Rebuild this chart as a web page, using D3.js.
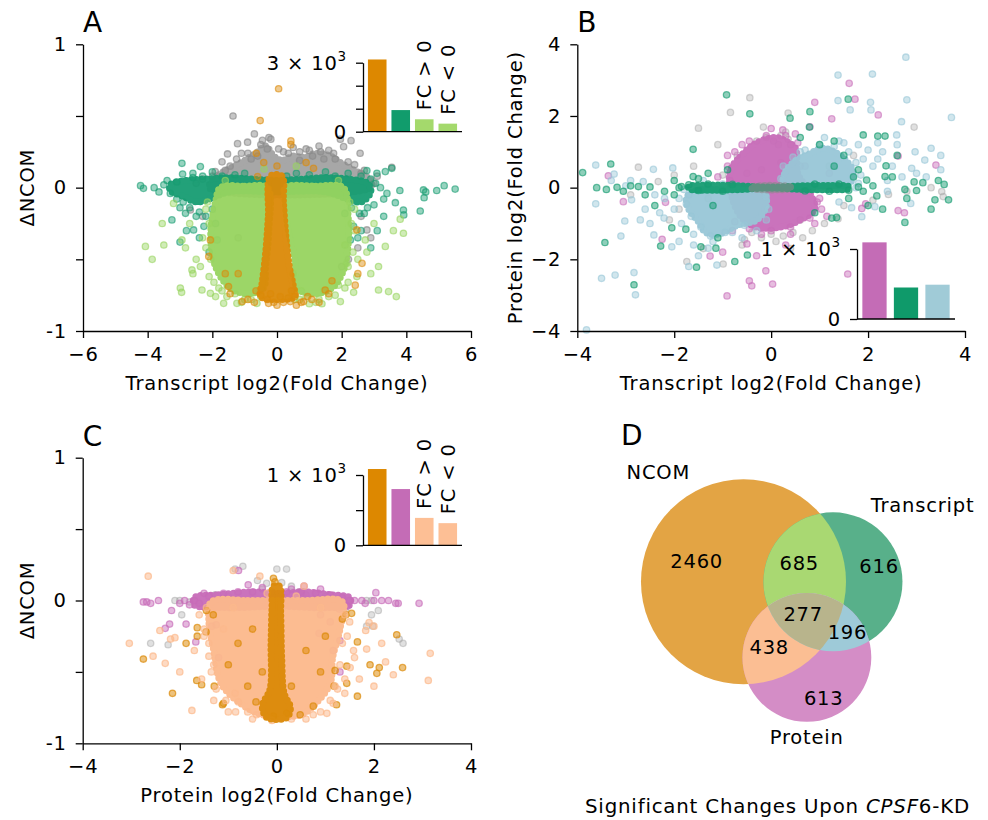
<!DOCTYPE html>
<html>
<head>
<meta charset="utf-8">
<script src="https://cdn.jsdelivr.net/npm/d3@7"></script>
<style>
  body { margin: 0; background: #fff; }
  svg { display: block; font-family: 'DejaVu Sans', sans-serif; }
  svg text { letter-spacing: 0.8px; }
</style>
</head>
<body>
<svg id="fig" width="988" height="820"></svg>
<script>
// ---------- data ----------

// Panel A: transcript log2FC vs dNCOM
const aXTicks = [-6, -4, -2, 0, 2, 4, 6];
const aYTicks = [-1, -0.5, 0, 0.5, 1];
const aYTickText = ['-1', '', '0', '', '1'];
// dense clouds, outlined as [x, y] polygons
const aGrayCore = [[-2.1,0.0],[-1.8,0.09],[-1.4,0.14],[-1.0,0.19],[-0.6,0.25],[-0.35,0.29],[-0.1,0.22],[0.15,0.19],[0.5,0.22],[0.85,0.21],[1.2,0.24],[1.65,0.22],[2.0,0.17],[2.4,0.12],[2.9,0.05],[2.9,0.0]];
const aDarkGreenCore = [[-3.3,0.02],[-2.8,0.05],[-2.2,0.06],[-1.5,0.07],[-0.8,0.06],[0,0.05],[0.8,0.06],[1.5,0.07],[2.2,0.06],[2.8,0.03],[2.9,-0.03],[2.6,-0.1],[2.2,-0.08],[1.5,-0.03],[0,-0.03],[-1.5,-0.03],[-2.1,-0.08],[-2.5,-0.1],[-2.9,-0.06],[-3.3,-0.02]];
const aLightGreenLeftCore = [[-1.75,0.0],[-1.0,0.01],[-0.3,0.0],[-0.25,-0.3],[-0.35,-0.55],[-0.42,-0.7],[-0.9,-0.74],[-1.45,-0.7],[-1.9,-0.55],[-2.05,-0.32],[-1.9,-0.1]];
const aLightGreenRightCore = [[0.25,0.0],[1.2,0.01],[2.05,0.0],[2.2,-0.2],[2.2,-0.4],[2.05,-0.58],[1.7,-0.7],[1.1,-0.74],[0.62,-0.7],[0.55,-0.5],[0.35,-0.3],[0.25,-0.1]];
const aOrangeCore = [[-0.2,0.08],[0.15,0.08],[0.2,-0.1],[0.28,-0.35],[0.38,-0.55],[0.5,-0.68],[0.55,-0.76],[0.0,-0.78],[-0.5,-0.76],[-0.45,-0.65],[-0.35,-0.45],[-0.27,-0.2]];
// single points
const aGrayPts = [[-1.36,0.50],[-0.70,0.375],[-0.91,0.317],[-1.22,0.307],[-0.19,0.338],[-1.53,0.235],[2.29,0.328],[2.57,0.24],[2.06,0.286],[3.55,0.142],[-1.91,0.112],[1.96,0.338],[-2.68,-0.156],[2.78,-0.295],[2.21,-0.5],[-1.7,0.18],[-1.1,0.24],[-0.5,0.30],[-0.3,0.27],[0.2,0.25],[0.5,0.28],[0.9,0.27],[1.3,0.29],[1.6,0.26],[1.8,0.2],[2.4,0.16],[2.7,0.12],[3.1,0.08],[-2.3,0.06],[-0.8,0.2],[1.1,0.22],[2.6,-0.2],[2.9,-0.35],[2.5,-0.42],[-2.3,-0.2],[-1.2,-0.35],[2.0,-0.55],[-0.6,0.22],[0.7,0.19],[1.45,0.2],[-1.45,0.15],[-2.0,0.08],[-1.6,0.12],[-1.25,0.2],[-0.9,0.24],[-0.45,0.33],[-0.25,0.35],[0.05,0.27],[0.35,0.24],[0.7,0.25],[1.0,0.26],[1.35,0.25],[1.75,0.24],[2.2,0.18],[2.6,0.1],[-2.5,0.03],[3.0,0.03]];
const aDarkGreenPts = [[-4.22,0.014],[-4.13,-0.005],[-2.94,0.17],[-2.92,0.095],[-2.37,0.147],[4.53,-0.016],[4.6,-0.03],[4.94,-0.02],[5.17,0.014],[5.51,-0.01],[4.55,-0.07],[4.43,-0.163],[3.91,-0.156],[3.92,-0.19],[3.66,-0.105],[3.4,-0.04],[2.78,0.119],[3.09,0.1],[3.35,0.112],[3.55,0.135],[-3.25,-0.225],[-2.83,-0.179],[-2.58,-0.295],[-2.26,-0.27],[-1.85,-0.365],[2.37,-0.27],[2.27,-0.365],[-3.8,0.0],[-3.65,-0.03],[-3.4,0.05],[-3.1,-0.08],[-2.6,0.1],[-2.0,0.11],[-1.0,0.1],[0.6,0.1],[1.5,0.11],[2.2,0.1],[2.6,0.08],[3.2,0.0],[3.0,-0.12],[2.7,-0.18],[-3.0,-0.14],[-2.5,-0.2],[3.8,-0.02],[-1.9,-0.25],[-2.1,-0.45],[2.6,-0.3],[3.3,-0.2],[-3.5,0.02],[-3.3,-0.04],[-3.1,0.04],[-2.9,-0.1],[-2.7,-0.14],[-2.4,-0.17],[-2.2,-0.2],[-2.0,-0.15],[-2.6,0.07],[-2.3,0.08],[2.8,-0.14],[2.55,-0.18],[2.3,-0.14],[2.9,0.06],[3.05,0.03],[3.3,-0.08],[2.1,-0.18],[-1.7,0.08],[-1.3,0.09],[0.3,0.08],[1.0,0.09],[1.8,0.08],[-2.8,-0.3],[-2.4,-0.35],[2.5,-0.35],[2.9,-0.42],[-3.0,-0.38],[3.1,-0.3]];
const aLightGreenPts = [[-4.07,-0.41],[-3.86,-0.5],[-3.55,-0.25],[-3.5,-0.4],[-3.2,-0.11],[-2.94,-0.365],[-2.83,-0.42],[-2.99,-0.70],[-2.95,-0.73],[-2.63,-0.574],[-2.37,-0.55],[-2.32,-0.714],[-2.06,-0.737],[-1.9,-0.76],[-1.65,-0.807],[-1.24,-0.807],[-0.62,-0.807],[3.14,-0.55],[3.14,-0.714],[3.45,-0.725],[3.69,-0.76],[3.35,-0.41],[3.6,-0.3],[3.91,-0.318],[3.81,-0.22],[2.73,-0.365],[2.78,-0.45],[2.47,-0.62],[2.37,-0.73],[1.96,-0.795],[1.39,-0.81],[1.0,-0.81],[2.16,-0.528],[-2.2,-0.15],[-2.3,-0.35],[-2.5,-0.5],[-2.1,-0.62],[-1.7,-0.72],[-1.0,-0.78],[-0.5,-0.76],[2.4,-0.15],[2.4,-0.3],[2.5,-0.5],[2.2,-0.66],[1.8,-0.75],[1.3,-0.78],[0.7,-0.78],[0.5,-0.6],[-2.7,-0.25],[2.9,-0.6],[-1.6,0.05],[1.9,0.05],[-0.4,0.13],[0.6,0.15],[-2.6,-0.6],[2.1,-0.4],[3.0,-0.25],[-2.15,-0.1],[-2.1,-0.25],[-2.2,-0.42],[-2.05,-0.5],[-1.95,-0.66],[-1.8,-0.7],[-1.55,-0.76],[-1.3,-0.74],[-1.1,-0.8],[-0.8,-0.78],[-0.55,-0.72],[2.25,-0.1],[2.3,-0.25],[2.35,-0.45],[2.2,-0.55],[2.1,-0.7],[1.9,-0.68],[1.6,-0.76],[1.45,-0.72],[1.2,-0.8],[0.9,-0.76],[0.75,-0.72],[0.55,-0.78]];
const aOrangePts = [[0.05,0.69],[-0.52,0.468],[0.43,0.326],[-0.64,0.24],[-0.41,0.175],[0.0,0.151],[0.9,0.175],[1.13,0.135],[-0.6,0.077],[-1.08,-0.795],[-0.9,-0.78],[-0.26,-0.807],[0.0,-0.82],[0.41,-0.795],[0.82,-0.795],[1.08,-0.78],[-1.5,-0.69],[-1.45,-0.74],[-2.06,-0.365],[-2.11,-0.48],[2.47,-0.295],[2.63,-0.528],[2.42,-0.68],[2.5,-0.6],[1.49,-0.714],[1.6,-0.74],[0.43,0.3],[-1.2,-0.6],[1.7,-0.65],[-0.7,-0.8],[0.6,-0.82],[1.3,-0.8],[-1.6,-0.6],[-0.5,-0.75],[-0.3,-0.78],[-0.1,-0.8],[0.2,-0.8],[0.35,-0.77],[0.55,-0.76],[0.75,-0.8],[-0.65,-0.72],[-0.2,-0.74],[0.1,-0.76],[0.45,-0.72],[0.95,-0.76]];
const aBarValues = [3140, 940, 540, 350];
const aBarTicks = [0, 1000, 2000, 3000];
const aBarTickLabelled = [0, 3000];

// Panel B: transcript log2FC vs protein log2FC
const bXTicks = [-4, -2, 0, 2, 4];
const bYTicks = [-4, -2, 0, 2, 4];
const bPinkCore = [[-0.85,0.45],[-0.65,0.85],[-0.3,1.25],[0.1,1.4],[0.3,1.3],[0.5,1.1],[0.55,0.4],[0.8,-0.15],[0.9,-0.6],[0.6,-0.9],[0.2,-1.1],[-0.3,-1.1],[-0.6,-0.85],[-0.8,-0.3]];
const bBlueLeftCore = [[-1.6,-0.1],[-1.0,-0.05],[-0.5,-0.08],[-0.15,-0.15],[-0.1,-0.5],[-0.3,-0.9],[-0.7,-1.05],[-1.1,-1.3],[-1.35,-1.25],[-1.5,-0.95],[-1.7,-0.6],[-1.75,-0.3]];
const bBlueRightCore = [[0.25,0.1],[0.3,0.45],[0.5,0.75],[0.8,0.95],[1.05,1.1],[1.3,1.0],[1.55,0.75],[1.7,0.4],[1.6,0.1],[1.2,0.05],[0.7,0.05]];
const bGreenCore = [[-1.7,0.03],[-1.2,0.07],[-0.6,0.05],[-0.2,0.02],[0.2,0.02],[0.6,0.05],[1.2,0.06],[1.6,0.03],[1.6,-0.03],[1.2,-0.06],[0.6,-0.05],[0.2,-0.02],[-0.2,-0.02],[-0.6,-0.05],[-1.2,-0.07],[-1.7,-0.03]];
const bGrayCore = [[-0.4,0.02],[0.4,0.02],[0.4,-0.02],[-0.4,-0.02]];
const bGrayPts = [[-0.44,2.51],[-0.84,2.1],[-1.5,1.66],[-0.16,1.69],[0.35,2.08],[2.95,1.69],[-2.74,0.57],[-2.33,0.17],[2.42,-0.19],[3.52,-0.11],[1.38,-0.87],[-1.74,-2.06],[-0.99,-2.13],[0.05,1.3],[0.2,1.45],[0.35,1.35],[0.15,1.2],[-0.1,1.4],[0.4,1.2],[0.3,1.55],[-0.3,1.3],[-0.4,-1.25],[-0.2,-1.4],[0.0,-1.3],[0.25,-1.35],[0.45,-1.25],[0.65,-1.4],[0.1,-1.5],[-0.55,-1.45],[0.85,-1.2],[1.1,-1.0],[-1.9,-0.6],[-2.1,-0.9],[-1.4,-1.7],[1.7,0.9],[-1.1,1.2],[3.55,-0.25],[-0.7,0.9],[-1.3,-0.3],[-1.0,0.35],[-0.2,0.5],[0.2,0.7],[1.2,0.6],[1.5,-0.5],[-2.0,0.35],[2.1,-0.35],[-0.6,-1.6],[0.4,-1.7],[-1.6,0.6],[2.8,-0.1],[3.3,0.0],[-2.9,-0.2],[-0.5,0.4],[0.6,-0.9]];
const bGreenPts = [[-0.92,2.59],[-0.44,2.06],[0.39,1.94],[1.59,2.47],[0.8,2.12],[0.79,1.69],[-1.61,1.07],[-3.31,0.66],[-3.89,0.42],[2.35,1.44],[2.2,1.44],[1.9,1.47],[2.37,0.61],[3.13,0.14],[2.95,0.16],[2.76,-0.05],[3.0,-0.08],[3.38,-0.34],[3.66,-0.34],[3.45,0.2],[3.57,0.09],[2.76,-0.97],[2.18,-0.23],[2.35,0.31],[1.97,0.21],[1.35,-0.83],[1.25,-0.85],[-3.43,-1.53],[-2.83,-2.71],[-2.28,-1.63],[-1.54,-2.22],[-0.75,-2.06],[-0.49,-1.88],[-3.18,0.01],[-3.05,-0.1],[-2.74,0.03],[-2.5,0.02],[-1.85,0.03],[-1.61,0.31],[-1.45,-1.65],[-1.14,-1.69],[-2.05,-1.12],[-1.76,-1.16],[-2.2,-0.1],[-2.6,-0.2],[-2.9,0.05],[-2.0,0.2],[1.9,-0.1],[2.1,0.05],[2.5,0.3],[1.6,-0.3],[1.0,1.2],[1.3,1.3],[1.5,0.9],[0.6,1.4],[-1.3,0.4],[-1.1,-1.4],[0.9,-0.7],[1.8,0.5],[2.6,0.9],[-0.9,0.5],[-1.9,0.0],[-1.7,0.08],[-1.5,-0.08],[-1.3,0.1],[-1.0,-0.1],[-0.8,0.09],[0.7,-0.09],[0.9,0.1],[1.2,-0.1],[1.4,0.1],[1.6,-0.07],[1.8,0.02],[-2.0,-0.2],[-1.5,0.25],[1.7,0.3],[2.0,-0.5],[2.3,-0.6],[-1.2,-0.5],[-2.4,-0.5],[1.3,0.6],[2.8,-0.3],[3.3,-0.6],[-3.6,0.0],[-3.4,-0.05]];
const bPinkPts = [[1.61,2.91],[1.73,2.47],[0.9,2.38],[1.25,1.92],[2.21,2.03],[0.24,1.61],[2.62,0.88],[3.4,0.63],[2.62,-0.64],[2.75,-0.7],[1.87,-0.58],[1.95,-0.45],[-3.36,0.33],[-3.05,-0.39],[-2.18,-0.41],[-2.25,-1.44],[-1.26,-1.91],[-0.5,-1.57],[-0.45,-2.6],[-0.4,-2.74],[0.03,-2.69],[-0.91,-3.02],[-0.11,-2.32],[1.58,-2.41],[1.04,-0.6],[1.15,-0.8],[-0.9,0.9],[-0.6,1.2],[0.5,1.5],[0.7,0.6],[1.0,-0.3],[0.9,-1.0],[0.4,-1.3],[-0.2,-1.3],[-0.8,-1.2],[-1.0,-1.8],[0.0,1.65],[-1.1,0.3],[0.8,1.7],[1.2,0.4],[-0.3,-1.9],[0.3,-1.6],[-0.85,0.2],[-0.9,0.6],[-0.75,1.0],[-0.45,1.3],[-0.1,1.45],[0.3,1.45],[0.55,1.25],[0.6,0.6],[0.85,0.0],[0.95,-0.4],[0.8,-0.85],[0.4,-1.1],[0.0,-1.2],[-0.45,-1.15],[-0.75,-0.95]];
const bBluePts = [[2.78,3.64],[2.09,3.17],[1.38,3.14],[1.38,2.43],[1.63,2.17],[2.05,2.38],[2.06,2.17],[2.8,2.45],[3.72,1.96],[2.69,1.84],[2.59,1.47],[3.17,0.77],[2.97,1.0],[2.9,0.54],[2.88,-0.44],[2.14,-0.53],[1.66,-0.56],[1.87,-0.81],[-3.62,0.63],[-3.62,-0.45],[-3.24,0.38],[-3.02,-0.93],[-2.88,-0.34],[-2.43,0.51],[-2.03,0.55],[-3.5,-2.53],[-3.22,-2.44],[-2.83,-2.37],[-2.8,-2.99],[-3.1,-1.35],[-2.42,-1.32],[-2.21,-0.85],[-2.05,-1.65],[-1.7,-2.2],[-1.12,-2.16],[-1.3,-1.69],[-3.81,-3.97],[-2.64,0.17],[1.8,1.2],[1.9,0.8],[2.1,0.6],[2.3,1.0],[2.4,0.2],[1.75,0.0],[1.4,1.3],[1.1,1.4],[0.6,1.0],[2.0,1.05],[3.3,1.1],[3.5,0.9],[-1.9,-0.3],[-2.0,-0.6],[-1.85,-1.0],[-1.6,-1.3],[-1.2,-1.5],[-0.8,-1.25],[-0.1,-0.9],[-1.4,0.2],[-1.0,0.1],[-2.4,-0.2],[-2.6,-0.6],[1.4,-0.4],[2.4,-0.1],[3.0,0.4],[-1.5,-1.9],[-3.3,0.2],[-2.9,0.2],[-1.7,-0.2],[-1.8,-0.05],[-1.75,-0.45],[-1.65,-0.8],[-1.45,-1.1],[-1.25,-1.35],[-0.95,-1.25],[-0.55,-1.05],[-0.3,-1.2],[-0.05,-0.6],[-0.1,-0.25],[-1.3,0.05],[-0.7,0.05],[0.2,0.25],[0.25,0.6],[0.45,0.85],[0.7,1.05],[1.0,1.2],[1.3,1.15],[1.6,1.0],[1.75,0.7],[1.85,0.35],[1.8,0.12],[1.5,1.25],[2.2,1.25],[2.5,0.6],[2.7,0.3],[-2.2,-0.3],[-2.3,-0.7],[-2.5,-1.0],[-1.9,-1.5],[-1.6,-1.6],[-0.6,-1.4],[2.2,0.8],[3.2,0.3],[3.5,0.5],[2.6,1.2],[-2.7,-0.9],[-3.0,0.05]];
const bBarValues = [1095, 450, 490];
const bBarTicks = [0, 1000];
const bBarTickLabelled = [0, 1000];

// Panel C: protein log2FC vs dNCOM
const cXTicks = [-4, -2, 0, 2, 4];
const cYTicks = [-1, -0.5, 0, 0.5, 1];
const cYTickText = ['-1', '', '0', '', '1'];
const cPinkCore = [[-1.7,0.02],[-1.2,0.04],[-0.5,0.06],[0,0.05],[0.6,0.06],[1.1,0.04],[1.5,0.02],[1.5,-0.03],[1.0,-0.05],[0,-0.04],[-1.0,-0.05],[-1.7,-0.03]];
const cPeachCore = [[-1.35,-0.01],[-0.6,0.0],[0,0.0],[0.6,0.0],[1.35,-0.01],[1.3,-0.2],[1.15,-0.4],[1.1,-0.58],[0.8,-0.72],[0.5,-0.8],[-0.3,-0.8],[-0.75,-0.72],[-1.15,-0.58],[-1.3,-0.35],[-1.4,-0.15]];
const cOrangeCore = [[-0.07,0.1],[0.05,0.1],[0.08,-0.1],[0.1,-0.4],[0.15,-0.65],[0.28,-0.75],[0.2,-0.82],[-0.2,-0.82],[-0.3,-0.74],[-0.14,-0.62],[-0.12,-0.3],[-0.1,-0.05]];
const cGrayPts = [[-0.7,0.24],[-0.86,0.22],[0.0,0.22],[0.2,0.22],[-0.4,0.14],[0.1,0.125],[-0.21,0.12],[-1.27,0.04],[-2.1,0.0],[-1.96,-0.10],[-2.24,-0.31],[1.85,0.0],[1.95,0.0],[2.09,-0.07],[1.95,-0.10],[1.85,-0.18],[1.98,-0.18],[2.52,-0.27],[1.41,-0.07],[0.46,0.06],[-2.0,0.0],[-1.8,-0.01],[-0.3,0.08],[0.3,0.1],[-0.1,0.06],[0.6,0.04],[-1.0,0.03],[1.0,0.03],[-2.6,-0.3],[2.6,-0.3]];
const cPinkPts = [[-2.75,-0.01],[-2.68,-0.01],[-2.44,0.0],[-2.17,-0.07],[-2.21,-0.165],[-1.87,-0.165],[-2.3,-0.195],[-1.67,-0.29],[-0.79,0.21],[-0.59,0.11],[0.56,0.10],[2.04,0.055],[2.0,0.0],[2.16,0.0],[2.45,-0.02],[2.5,-0.02],[2.93,-0.02],[1.82,-0.02],[1.3,-0.28],[1.16,-0.35],[0.87,-0.23],[1.29,-0.06],[-1.34,-0.18],[-1.25,-0.17],[-1.9,0.0],[-1.8,-0.03],[1.6,0.0],[1.45,-0.04],[-1.5,0.05],[0.3,0.08],[-0.3,0.09],[0.9,0.08],[1.1,-0.15],[-1.2,-0.4],[1.3,-0.5],[0.9,-0.1],[-1.7,0.0],[-1.6,-0.02],[-1.4,0.03],[-1.1,0.05],[-0.8,0.06],[-0.5,0.06],[0.2,0.06],[0.5,0.06],[0.8,0.05],[1.1,0.04],[1.35,0.02],[1.5,0.0],[-2.0,-0.02],[1.75,0.0],[-2.6,-0.02],[2.3,0.0]];
const cPeachPts = [[-2.65,0.17],[-3.04,-0.30],[-2.55,-0.39],[-2.3,-0.44],[-2.41,-0.21],[-2.19,-0.27],[-2.1,-0.26],[-1.75,-0.77],[3.16,-0.37],[3.12,-0.56],[2.4,-0.52],[2.24,-0.43],[2.16,-0.30],[1.83,-0.21],[1.9,-0.155],[2.0,-0.18],[1.58,-0.35],[1.6,-0.4],[1.85,-0.34],[1.4,-0.65],[1.03,-0.79],[0.75,-0.80],[-1.4,-0.39],[-1.3,-0.45],[-0.86,-0.65],[-0.79,-0.71],[-0.42,-0.80],[1.51,-0.47],[1.16,-0.72],[-0.35,0.17],[0.56,0.10],[-0.9,0.21],[-1.6,-0.1],[-1.5,-0.25],[-1.55,-0.55],[-1.3,-0.7],[-1.0,-0.78],[1.35,-0.3],[1.4,-0.55],[1.2,-0.6],[0.9,-0.78],[0.3,-0.83],[-0.1,-0.84],[-0.6,-0.78],[1.5,-0.15],[-1.7,-0.35],[1.7,-0.55],[-2.0,-0.5],[2.0,-0.6],[-1.1,-0.2],[-0.2,0.05],[0.4,0.03],[-1.45,-0.05],[-1.5,-0.2],[-1.4,-0.3],[-1.35,-0.5],[-1.25,-0.62],[-1.05,-0.7],[-0.85,-0.78],[-0.5,-0.83],[-0.2,-0.81],[0.1,-0.82],[0.6,-0.83],[1.1,-0.7],[1.25,-0.62],[1.3,-0.45],[1.4,-0.1],[1.45,-0.25],[-0.9,-0.05],[0.9,-0.05]];
const cOrangePts = [[-2.75,-0.41],[-2.15,-0.65],[-1.12,-0.73],[-1.65,-0.56],[-1.55,-0.59],[-1.29,-0.60],[-1.87,-0.30],[-1.64,-0.19],[-1.64,-0.25],[-1.46,-0.22],[-1.31,-0.10],[-1.45,-0.07],[2.47,-0.24],[2.59,-0.47],[2.06,-0.51],[2.11,-0.47],[1.92,-0.45],[1.66,-0.29],[1.44,-0.46],[1.44,-0.58],[1.2,-0.49],[1.18,-0.60],[1.23,-0.73],[1.66,-0.67],[1.42,-0.10],[1.54,-0.09],[1.35,-0.13],[0.48,-0.80],[0.2,-0.79],[-0.07,-0.81],[-0.43,-0.71],[-1.1,-0.72],[0.75,-0.74],[-0.07,0.155],[-0.04,0.13],[-1.0,-0.45],[0.9,-0.5],[-0.6,-0.6],[0.6,-0.35],[-0.8,-0.3],[1.0,-0.25],[-0.5,-0.2],[0.3,-0.6],[-0.3,-0.5]];
const cBarValues = [1085, 800, 390, 315];
const cBarTicks = [0, 500, 1000];
const cBarTickLabelled = [0, 1000];

// Panel D: Venn region counts (N = NCOM, T = Transcript, P = Protein)
const vennSets = ['NCOM', 'Transcript', 'Protein'];
const vennRegionKeys = ['100', '010', '001', '110', '101', '011', '111'];
const vennRegionCounts = [2460, 616, 613, 685, 438, 196, 277];

// ---------- colours ----------
const orange = '#dc8a08', darkGreen = '#179d72', lightGreen = '#97d45f', gray = '#8a8a8a', lightGray = '#a2a2a2';
const pink = '#c86cb9', blue = '#98c7d7', peach = '#fcb98c';
const vennColors = { '100': '#e3a444', '010': '#58b08a', '001': '#d48dc6', '110': '#a9d872', '101': '#fbbe93', '011': '#9ecad8', '111': '#b8b48c' };

const font = "'DejaVu Sans', sans-serif";
const fs = 19.5;
const svg = d3.select('#fig');

// ---------- helpers ----------
function drawCore(g, pts, color, x, y, op = 0.95) {
  // filled outline with a beaded edge so it reads as a dense cloud of markers
  g.append('path')
    .datum(pts)
    .attr('d', d3.line().x(d => x(d[0])).y(d => y(d[1])).curve(d3.curveCatmullRomClosed.alpha(0.5)))
    .attr('fill', color)
    .attr('stroke', color)
    .attr('stroke-width', 7)
    .attr('stroke-linecap', 'round')
    .attr('stroke-dasharray', '0 5')
    .attr('opacity', op);
}

function drawDots(g, pts, color, x, y, alpha = 0.6) {
  g.append('g')
    .selectAll('circle')
    .data(pts)
    .join('circle')
    .attr('cx', d => x(d[0]))
    .attr('cy', d => y(d[1]))
    .attr('r', 3.2)
    .attr('fill', color)
    .attr('fill-opacity', alpha * 0.75)
    .attr('stroke', color)
    .attr('stroke-opacity', alpha)
    .attr('stroke-width', 1.3);
}

function styleAxis(sel) {
  sel.select('.domain').attr('stroke', '#000').attr('stroke-width', 1.3);
  sel.selectAll('.tick line').attr('stroke', '#000').attr('stroke-width', 1.3);
  sel.selectAll('.tick text').attr('font-family', font).attr('font-size', fs).attr('fill', '#000');
}

function sciLabel(sel, v) {
  if (v === 0) { sel.text('0'); return; }
  const e = Math.floor(Math.log10(v));
  const m = v / Math.pow(10, e);
  sel.text(`${m} × 10`);
  sel.append('tspan').attr('dy', -9).attr('font-size', 13.5).text(e);
}

function drawInset(cfg) {
  const g = svg.append('g');
  const x = d3.scaleBand().domain(d3.range(cfg.values.length)).range(cfg.xRange)
    .paddingInner(cfg.padIn).paddingOuter(cfg.padOut);
  const y = d3.scaleLinear().domain([0, d3.max(cfg.ticks)]).range(cfg.yRange);

  g.selectAll('rect')
    .data(cfg.values)
    .join('rect')
    .attr('x', (d, i) => x(i))
    .attr('y', d => y(d))
    .attr('width', x.bandwidth())
    .attr('height', d => y(0) - y(d))
    .attr('fill', (d, i) => cfg.colors[i]);

  // left spine + ticks
  g.append('g')
    .attr('transform', `translate(${cfg.xRange[0]},0)`)
    .call(d3.axisLeft(y).tickValues(cfg.ticks).tickFormat('').tickSize(7).tickSizeOuter(0))
    .call(styleAxis);
  // bottom spine
  g.append('line')
    .attr('x1', cfg.xRange[0]).attr('x2', cfg.xRange[1])
    .attr('y1', y(0)).attr('y2', y(0))
    .attr('stroke', '#000').attr('stroke-width', 1.3);

  cfg.labelled.forEach(v => {
    g.append('text')
      .attr('x', cfg.xRange[0] - 16)
      .attr('y', y(v))
      .attr('dy', '0.36em')
      .attr('text-anchor', 'end')
      .attr('font-size', fs)
      .call(sciLabel, v);
  });

  // rotated FC labels above the split bars
  (cfg.fcLabels || []).forEach(f => {
    g.append('text')
      .attr('transform', `translate(${x(f.bar) + x.bandwidth() / 2 + 7},${y(cfg.values[f.bar]) - 9}) rotate(-90)`)
      .attr('font-size', fs)
      .text(f.text);
  });
}

function drawPanel(cfg) {
  const g = svg.append('g');
  const x = d3.scaleLinear().domain(cfg.xDomain).range(cfg.xRange);
  const y = d3.scaleLinear().domain(cfg.yDomain).range(cfg.yRange);

  // scatter layers, back to front
  cfg.layers.forEach(l => {
    if (l.core) drawCore(g, l.core, l.color, x, y, l.coreOp);
    if (l.dots) drawDots(g, l.dots, l.color, x, y, l.alpha);
  });

  g.append('g')
    .attr('transform', `translate(0,${cfg.yRange[0]})`)
    .call(d3.axisBottom(x).tickValues(cfg.xTicks).tickFormat(d3.format('d')).tickSize(7).tickPadding(9).tickSizeOuter(0))
    .call(styleAxis);

  g.append('g')
    .attr('transform', `translate(${cfg.xRange[0]},0)`)
    .call(d3.axisLeft(y).tickValues(cfg.yTicks).tickFormat(cfg.yFormat).tickSize(7).tickPadding(9).tickSizeOuter(0))
    .call(styleAxis);

  const xm = (cfg.xRange[0] + cfg.xRange[1]) / 2;
  const ym = (cfg.yRange[0] + cfg.yRange[1]) / 2;
  g.append('text')
    .attr('x', xm).attr('y', cfg.yRange[0] + 58.5)
    .attr('text-anchor', 'middle').attr('font-size', fs)
    .text(cfg.xLabel);
  g.append('text')
    .attr('transform', `translate(${cfg.yLabelX},${ym}) rotate(-90)`)
    .attr('text-anchor', 'middle').attr('font-size', fs)
    .text(cfg.yLabel);
  g.append('text')
    .attr('x', cfg.xRange[0]).attr('y', cfg.yRange[1] - 12)
    .attr('font-size', 28)
    .text(cfg.letter);
}

// ---------- panels ----------
drawPanel({
  letter: 'A',
  xDomain: [-6, 6], xRange: [83, 471],
  yDomain: [-1, 1], yRange: [331, 44.3],
  xTicks: aXTicks, yTicks: aYTicks,
  yFormat: (d, i) => aYTickText[i],
  xLabel: 'Transcript log2(Fold Change)', yLabel: 'ΔNCOM', yLabelX: 34,
  layers: [
    { core: aGrayCore, dots: aGrayPts, color: gray, coreOp: 0.75, alpha: 0.65 },
    { core: aDarkGreenCore, dots: aDarkGreenPts, color: darkGreen, alpha: 0.6 },
    { core: aLightGreenLeftCore, color: lightGreen },
    { core: aLightGreenRightCore, dots: aLightGreenPts, color: lightGreen, alpha: 0.6 },
    { core: aOrangeCore, dots: aOrangePts, color: orange, alpha: 0.6 }
  ]
});
drawInset({
  values: aBarValues, ticks: aBarTicks, labelled: aBarTickLabelled,
  colors: ['#dd8800', '#119c6c', '#a4d96c', '#a4d96c'],
  xRange: [363, 462], yRange: [131.7, 62.7], padIn: 0.21, padOut: 0.21,
  fcLabels: [{ bar: 2, text: 'FC > 0' }, { bar: 3, text: 'FC < 0' }]
});

drawPanel({
  letter: 'B',
  xDomain: [-4, 4], xRange: [577.3, 965],
  yDomain: [-4, 4], yRange: [331, 44.3],
  xTicks: bXTicks, yTicks: bYTicks,
  yFormat: d3.format('d'),
  xLabel: 'Transcript log2(Fold Change)', yLabel: 'Protein log2(Fold Change)', yLabelX: 522,
  layers: [
    { dots: bGrayPts, color: lightGray, alpha: 0.45 },
    { core: bPinkCore, dots: bPinkPts, color: pink, alpha: 0.6 },
    { core: bBlueLeftCore, color: blue },
    { core: bBlueRightCore, dots: bBluePts, color: blue, alpha: 0.6 },
    { core: bGreenCore, dots: bGreenPts, color: darkGreen, alpha: 0.65 },
    { core: bGrayCore, color: gray, coreOp: 0.6 }
  ]
});
drawInset({
  values: bBarValues, ticks: bBarTicks, labelled: bBarTickLabelled,
  colors: ['#c46cb6', '#0f9a6a', '#a0cbd7'],
  xRange: [857, 955], yRange: [319, 249], padIn: 0.23, padOut: 0.17
});

drawPanel({
  letter: 'C',
  xDomain: [-4, 4], xRange: [82.7, 471],
  yDomain: [-1, 1], yRange: [743.3, 457.7],
  xTicks: cXTicks, yTicks: cYTicks,
  yFormat: (d, i) => cYTickText[i],
  xLabel: 'Protein log2(Fold Change)', yLabel: 'ΔNCOM', yLabelX: 34,
  layers: [
    { dots: cGrayPts, color: lightGray, alpha: 0.45 },
    { core: cPinkCore, dots: cPinkPts, color: pink, alpha: 0.65 },
    { core: cPeachCore, color: peach },
    { dots: cOrangePts, color: orange, alpha: 0.7 },
    { dots: cPeachPts, color: peach, alpha: 0.7 },
    { core: cOrangeCore, color: orange }
  ]
});
drawInset({
  values: cBarValues, ticks: cBarTicks, labelled: cBarTickLabelled,
  colors: ['#dd8800', '#c46cb6', '#fdbf95', '#fdbf95'],
  xRange: [363, 462], yRange: [545.3, 475], padIn: 0.21, padOut: 0.21,
  fcLabels: [{ bar: 2, text: 'FC > 0' }, { bar: 3, text: 'FC < 0' }]
});

// ---------- panel D: area-proportional Venn ----------
(function venn() {
  const count = k => d3.sum(vennRegionKeys, (key, i) => (key.split('').every((c, j) => k[j] !== '1' || c === '1')) ? vennRegionCounts[i] : 0);
  const totals = [count('100'), count('010'), count('001')];
  const r = totals.map(Math.sqrt);
  const lens = (r1, r2, d) => {
    if (d >= r1 + r2) return 0;
    const a = r1 * r1 * Math.acos((d * d + r1 * r1 - r2 * r2) / (2 * d * r1));
    const b = r2 * r2 * Math.acos((d * d + r2 * r2 - r1 * r1) / (2 * d * r2));
    const c = 0.5 * Math.sqrt((-d + r1 + r2) * (d + r1 - r2) * (d - r1 + r2) * (d + r1 + r2));
    return a + b - c;
  };
  // distance giving the wanted overlap area (bisection)
  const dist = (i, j, shared) => {
    let lo = Math.abs(r[i] - r[j]) + 1e-6, hi = r[i] + r[j];
    for (let n = 0; n < 60; n++) {
      const mid = (lo + hi) / 2;
      if (lens(r[i], r[j], mid) > Math.PI * shared) lo = mid; else hi = mid;
    }
    return (lo + hi) / 2;
  };
  const dNT = dist(0, 1, count('110'));
  const dNP = dist(0, 2, count('101'));
  const dTP = dist(1, 2, count('011'));
  const px = (dNP * dNP - dTP * dTP + dNT * dNT) / (2 * dNT);
  const centers = [[0, 0], [dNT, 0], [px, Math.sqrt(Math.max(0, dNP * dNP - px * px))]];

  const k = 1.65;
  const vx = d3.scaleLinear().domain([0, 1]).range([743.5, 743.5 + k]);
  const vy = d3.scaleLinear().domain([0, 1]).range([581.8, 581.8 + k]);

  const g = svg.append('g');
  const defs = svg.append('defs');
  ['cN', 'cT', 'cP'].forEach((id, i) => {
    defs.append('clipPath').attr('id', id)
      .append('circle').attr('cx', vx(centers[i][0])).attr('cy', vy(centers[i][1])).attr('r', r[i] * k);
  });
  const circ = (sel, i, fill) => sel.append('circle')
    .attr('cx', vx(centers[i][0])).attr('cy', vy(centers[i][1])).attr('r', r[i] * k).attr('fill', fill);

  circ(g, 0, vennColors['100']);
  circ(g, 1, vennColors['010']);
  circ(g, 2, vennColors['001']);
  circ(g, 1, vennColors['110']).attr('clip-path', 'url(#cN)');
  circ(g, 2, vennColors['101']).attr('clip-path', 'url(#cN)');
  circ(g, 2, vennColors['011']).attr('clip-path', 'url(#cT)');
  circ(g.append('g').attr('clip-path', 'url(#cN)'), 2, vennColors['111']).attr('clip-path', 'url(#cT)');

  // label anchors in Venn units, relative to the NCOM centre
  const regionPos = { '100': [-28.4, -8.2], '110': [33.8, -7.2], '010': [82.2, -5.2], '111': [36.2, 23.6], '011': [63.0, 34.8], '101': [15.6, 43.8], '001': [48.6, 74.7] };
  const setPos = [[-51.6, -62.1], [108.5, -42.5], [38.3, 98.5]];

  vennRegionKeys.forEach((key, i) => {
    g.append('text')
      .attr('x', vx(regionPos[key][0])).attr('y', vy(regionPos[key][1]))
      .attr('text-anchor', 'middle').attr('font-size', fs)
      .text(vennRegionCounts[i]);
  });
  vennSets.forEach((s, i) => {
    g.append('text')
      .attr('x', vx(setPos[i][0])).attr('y', vy(setPos[i][1]))
      .attr('text-anchor', 'middle').attr('font-size', fs)
      .text(s);
  });

  svg.append('text')
    .attr('x', 621).attr('y', 445)
    .attr('font-size', 28)
    .text('D');

  const cap = svg.append('text')
    .attr('x', 777.5).attr('y', 813)
    .attr('text-anchor', 'middle').attr('font-size', 19.8);
  cap.append('tspan').text('Significant Changes Upon ');
  cap.append('tspan').attr('font-style', 'italic').text('CPSF');
  cap.append('tspan').text('6-KD');
})();
</script>
</body>
</html>
